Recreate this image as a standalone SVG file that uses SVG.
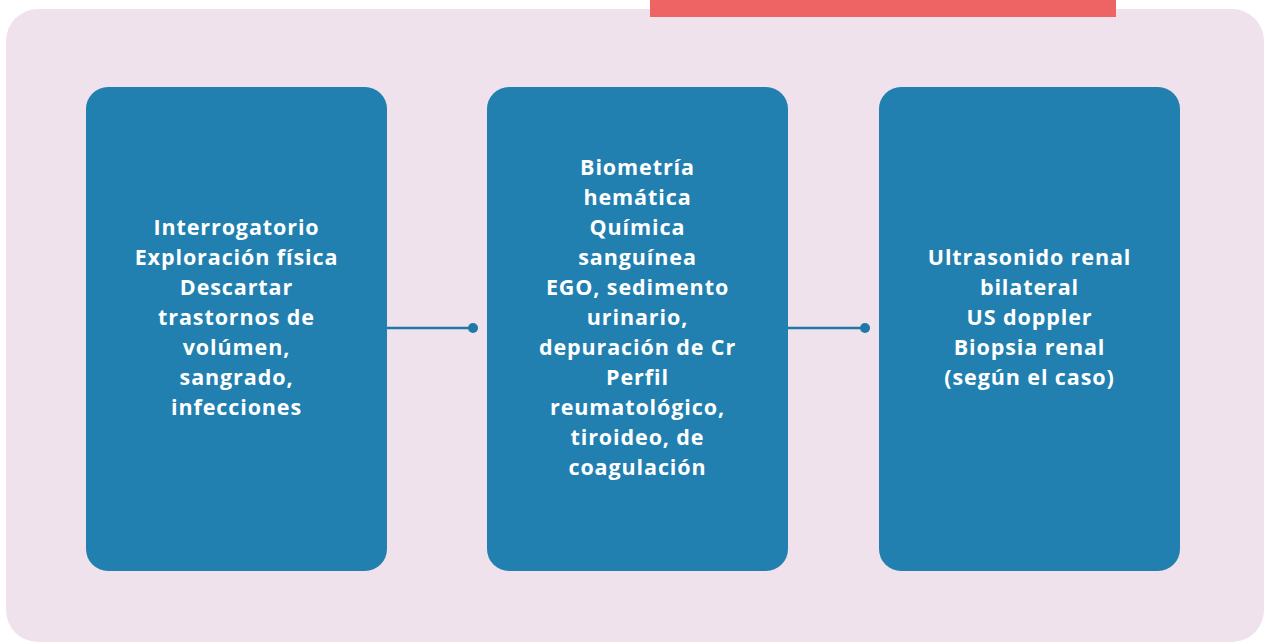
<svg xmlns="http://www.w3.org/2000/svg" width="1265" height="643" viewBox="0 0 1265 643">
<style>
.box{fill:#2180AF;}
.t{font-family:"Open Sans","Liberation Sans",sans-serif;font-weight:bold;font-size:21.5px;fill:#ffffff;text-anchor:middle;letter-spacing:0.9px;}
.conn{stroke:#1F78A8;stroke-width:2.5;fill:none;}
.dot{fill:#1F78A8;}
</style>
<rect x="0" y="0" width="1265" height="643" fill="#ffffff"/>
<rect x="6" y="9" width="1258" height="633" rx="32" fill="#EFE2EC"/>
<rect x="650" y="0" width="466" height="17" fill="#EE6464"/>
<g id="connectors">
<line class="conn" x1="387" y1="328" x2="473" y2="328"/>
<circle class="dot" cx="473" cy="328" r="5"/>
<line class="conn" x1="788" y1="328" x2="865" y2="328"/>
<circle class="dot" cx="865" cy="328" r="5"/>
</g>
<g id="node1">
<rect class="box" x="86" y="87" width="301" height="484" rx="22"/>
<text class="t" x="236.5" y="235">Interrogatorio</text>
<text class="t" x="236.5" y="265">Exploración física</text>
<text class="t" x="236.5" y="295">Descartar</text>
<text class="t" x="236.5" y="325">trastornos de</text>
<text class="t" x="236.5" y="355">volúmen,</text>
<text class="t" x="236.5" y="385">sangrado,</text>
<text class="t" x="236.5" y="415">infecciones</text>
</g>
<g id="node2">
<rect class="box" x="487" y="87" width="301" height="484" rx="22"/>
<text class="t" x="637.5" y="175">Biometría</text>
<text class="t" x="637.5" y="205">hemática</text>
<text class="t" x="637.5" y="235">Química</text>
<text class="t" x="637.5" y="265">sanguínea</text>
<text class="t" x="637.5" y="295">EGO, sedimento</text>
<text class="t" x="637.5" y="325">urinario,</text>
<text class="t" x="637.5" y="355">depuración de Cr</text>
<text class="t" x="637.5" y="385">Perfil</text>
<text class="t" x="637.5" y="415">reumatológico,</text>
<text class="t" x="637.5" y="445">tiroideo, de</text>
<text class="t" x="637.5" y="475">coagulación</text>
</g>
<g id="node3">
<rect class="box" x="879" y="87" width="301" height="484" rx="22"/>
<text class="t" x="1029.5" y="265">Ultrasonido renal</text>
<text class="t" x="1029.5" y="295">bilateral</text>
<text class="t" x="1029.5" y="325">US doppler</text>
<text class="t" x="1029.5" y="355">Biopsia renal</text>
<text class="t" x="1029.5" y="385">(según el caso)</text>
</g>
</svg>
